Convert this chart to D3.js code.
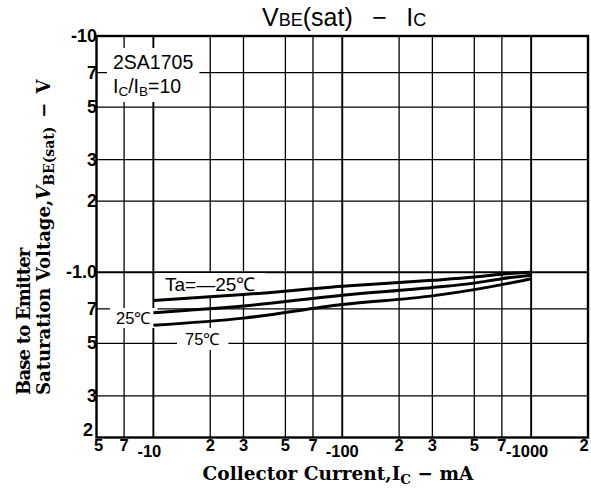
<!DOCTYPE html>
<html>
<head>
<meta charset="utf-8">
<script src="https://cdn.jsdelivr.net/npm/d3@7"></script>
<style>
  html, body { margin: 0; padding: 0; background: #fff; }
  svg { display: block; }
</style>
</head>
<body>
<svg id="chart" width="591" height="491"></svg>
<script>
// Axis ticks (log decades, labelled the way the data sheet prints them)
const xTicks = [5, 7, 10, 20, 30, 50, 70, 100, 200, 300, 500, 700, 1000, 2000];
const xTickLabels = ["5", "7", "-10", "2", "3", "5", "7", "-100", "2", "3", "5", "7", "-1000", "2"];
const yTicks = [10, 7, 5, 3, 2, 1, 0.7, 0.5, 0.3, 0.2];
const yTickLabels = ["-10", "7", "5", "3", "2", "-1.0", "7", "5", "3", "2"];

// Collector current (mA, magnitude) and VBE(sat) (V, magnitude) per ambient temperature
const current = [10, 30, 100, 300, 500, 700, 1000];
const vbeMinus25 = [0.76, 0.805, 0.873, 0.925, 0.955, 0.982, 1.0];
const vbe25 = [0.675, 0.72, 0.80, 0.862, 0.90, 0.94, 0.972];
const vbe75 = [0.597, 0.64, 0.731, 0.795, 0.845, 0.887, 0.94];

const series = [
  { name: "-25", values: vbeMinus25 },
  { name: "25", values: vbe25 },
  { name: "75", values: vbe75 }
];

const svg = d3.select("#chart");
const plotLeft = 96.5, plotRight = 588, plotTop = 36, plotBottom = 437.5;

const x = d3.scaleLog().domain([5, 2000]).range([plotLeft, plotRight]);
const y = d3.scaleLog().domain([0.2, 10]).range([plotBottom, plotTop]);

const sans = "'Liberation Sans', Arial, sans-serif";
const serif = "'DejaVu Serif', 'Liberation Serif', serif";

// Grid
const grid = svg.append("g").attr("stroke", "#000");
grid.selectAll("line.vx").data(xTicks.slice(1, -1)).join("line")
  .attr("x1", d => x(d)).attr("x2", d => x(d))
  .attr("y1", plotTop).attr("y2", plotBottom)
  .attr("stroke-width", d => [10, 100, 1000].includes(d) ? 1.9 : 1.3);
grid.selectAll("line.hy").data(yTicks.slice(1, -1)).join("line")
  .attr("y1", d => y(d)).attr("y2", d => y(d))
  .attr("x1", plotLeft).attr("x2", plotRight)
  .attr("stroke-width", d => d === 1 ? 1.9 : 1.3);

// Text with a white backing box that breaks the grid behind it
const labelLayer = svg.append("g");
function boxedText(build, pad) {
  const g = labelLayer.append("g");
  const rect = g.append("rect").attr("fill", "#fff");
  const t = g.append("text");
  build(t);
  const b = t.node().getBBox();
  rect.attr("x", b.x - pad[0]).attr("y", b.y - pad[1])
    .attr("width", b.width + pad[0] * 2).attr("height", b.height + pad[1] * 2);
  return g;
}

// Device note
boxedText(t => {
  t.attr("font-family", sans).attr("font-size", 19.5).attr("fill", "#000");
  t.append("tspan").attr("x", 113).attr("y", 69).text("2SA1705");
  const l2 = t.append("tspan").attr("x", 113).attr("y", 93);
  l2.append("tspan").text("I");
  l2.append("tspan").attr("font-size", 13.5).attr("dy", 3).text("C");
  l2.append("tspan").attr("dy", -3).text("/I");
  l2.append("tspan").attr("font-size", 13.5).attr("dy", 3).text("B");
  l2.append("tspan").attr("dy", -3).text("=10");
}, [6, 3]);

// Curves
const line = d3.line()
  .x(d => x(d[0]))
  .y(d => y(d[1]))
  .curve(d3.curveMonotoneX);

svg.append("g").selectAll("path").data(series).join("path")
  .attr("d", s => line(current.map((c, i) => [c, s.values[i]])))
  .attr("fill", "none").attr("stroke", "#000")
  .attr("stroke-width", 3).attr("stroke-linecap", "butt");

// Temperature labels
function tempLabel(px, py, text, size, pad) {
  boxedText(t => {
    t.attr("x", px).attr("y", py)
      .attr("font-family", sans).attr("font-size", size).attr("fill", "#000").text(text);
  }, pad);
}
tempLabel(165, 291, "Ta=\u201425\u2103", 19, [10, 1]);
tempLabel(116, 324, "25\u2103", 16.5, [6, 1]);
tempLabel(185, 345, "75\u2103", 16.5, [8, 2]);

// Plot frame
svg.append("rect")
  .attr("x", plotLeft).attr("y", plotTop)
  .attr("width", plotRight - plotLeft).attr("height", plotBottom - plotTop)
  .attr("fill", "none").attr("stroke", "#000").attr("stroke-width", 2.4);

// Y tick labels (the lowest one sits a little higher and further left to clear the x labels)
const yLast = yTicks.length - 1;
svg.append("g").selectAll("text").data(yTicks).join("text")
  .attr("x", (d, i) => i === yLast ? 93 : 97)
  .attr("y", (d, i) => y(d) + 6 - (i === yLast ? 8 : 0))
  .attr("text-anchor", "end")
  .attr("font-family", sans).attr("font-weight", "bold").attr("font-size", 18)
  .attr("fill", "#000")
  .text((d, i) => yTickLabels[i]);

// X tick labels (first and last nudged inward so they stay on the page)
const xLast = xTicks.length - 1;
svg.append("g").selectAll("text").data(xTicks).join("text")
  .attr("x", (d, i) => x(d) + (d === 10 || d === 1000 ? -4 : i === 0 ? 2 : i === xLast ? -4 : 0))
  .attr("y", d => [10, 100, 1000].includes(d) ? 457 : 451)
  .attr("text-anchor", "middle")
  .attr("font-family", sans).attr("font-weight", "bold").attr("font-size", 16.5)
  .attr("fill", "#000")
  .text((d, i) => xTickLabels[i]);

// Title
const title = svg.append("text")
  .attr("x", 262).attr("y", 26)
  .attr("font-family", sans).attr("font-size", 25).attr("fill", "#000");
title.append("tspan").text("V");
title.append("tspan").attr("font-size", 18).text("BE");
title.append("tspan").text("(sat)\u2002 \u2212 \u2002I");
title.append("tspan").attr("font-size", 18).text("C");

// X axis title
const xt = svg.append("text")
  .attr("x", 338).attr("y", 480)
  .attr("text-anchor", "middle")
  .attr("font-family", serif).attr("font-weight", "bold").attr("font-size", 18.5)
  .attr("fill", "#000");
xt.append("tspan").text("Collector Current,I");
xt.append("tspan").attr("font-size", 13.5).attr("dy", 4).text("C");
xt.append("tspan").attr("dy", -4).text(" \u2212 mA");

// Y axis title (two lines, rotated)
const yt = svg.append("text")
  .attr("transform", "translate(0,395) rotate(-90)")
  .attr("font-family", serif).attr("font-weight", "bold").attr("font-size", 18)
  .attr("fill", "#000");
yt.append("tspan").attr("x", 0).attr("y", 30).attr("letter-spacing", -0.8).text("Base to Emitter");
const yl2 = yt.append("tspan").attr("x", 0).attr("y", 50);
yl2.append("tspan").text("Saturation Voltage,");
yl2.append("tspan").attr("font-style", "italic").text("V");
yl2.append("tspan").attr("font-size", 14).attr("dy", 4).text("BE(sat)");
yl2.append("tspan").attr("dy", -4).text("\u2002\u2212\u2002V");
</script>
</body>
</html>
